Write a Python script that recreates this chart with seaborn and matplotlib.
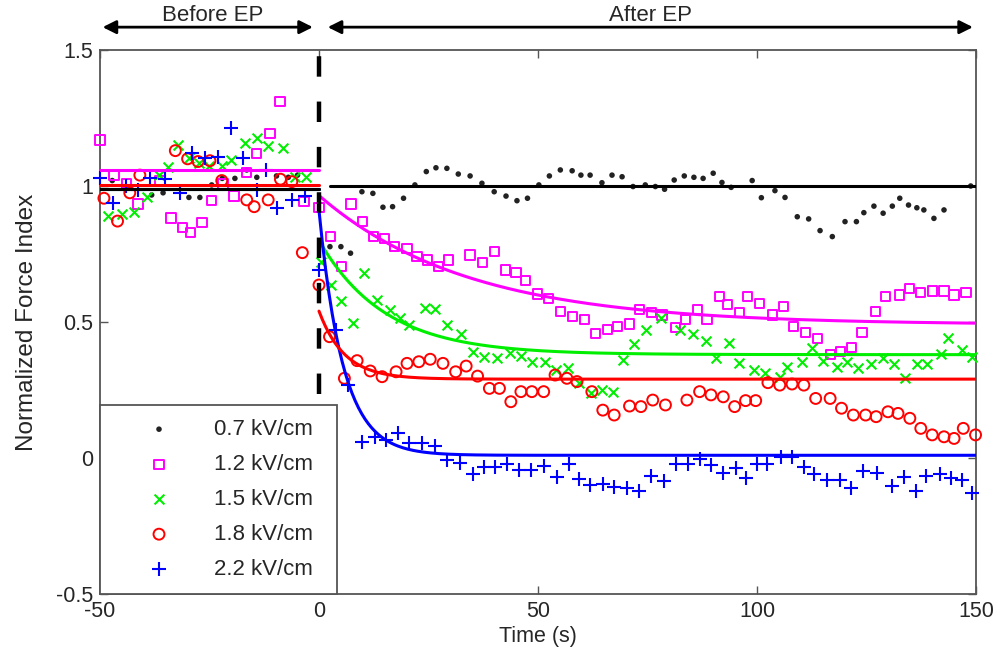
import numpy as np
import pandas as pd
import matplotlib
matplotlib.use("Agg")
import matplotlib.pyplot as plt
import seaborn as sns

# ---------------------------------------------------------------- data
field_labels = ["0.7 kV/cm", "1.2 kV/cm", "1.5 kV/cm", "1.8 kV/cm", "2.2 kV/cm"]

t_07 = [-47.2, -44.2, -38.2, -35.6, -29.7, -27.2, -24.5, -22.1, -19.2, -16.5, -14.2, -9.7, -7.0, -4.9,
        2.5, 5.0, 7.2, 9.8, 12.3, 14.6, 16.8, 19.3, 21.9, 24.5, 26.7, 29.2, 31.8, 34.5, 37.2, 40.0,
        42.7, 45.2, 47.6, 50.2, 52.6, 55.1, 57.8, 59.8, 61.9, 64.6, 66.9, 69.2, 71.7, 74.5, 76.8,
        78.9, 81.1, 83.4, 85.6, 87.7, 90.0, 92.0, 94.1, 98.9, 101.0, 104.1, 106.4, 109.2, 111.8,
        114.4, 117.2, 120.1, 122.7, 124.4, 126.7, 128.8, 130.9, 132.6, 134.6, 136.5, 138.1, 140.4,
        142.7, 148.8]
f_07 = [1.02, 0.998, 0.967, 0.975, 0.958, 0.958, 1.004, 1.028, 1.028, 1.059, 1.032, 1.037, 1.032, 1.04,
        0.777, 0.777, 0.753, 0.979, 0.973, 0.922, 0.924, 0.955, 1.004, 1.053, 1.067, 1.065, 1.044,
        1.037, 1.01, 0.979, 0.963, 0.946, 0.955, 1.004, 1.037, 1.059, 1.056, 1.04, 1.04, 1.012, 1.04,
        1.034, 0.998, 1.004, 0.998, 0.988, 1.022, 1.037, 1.032, 1.028, 1.047, 1.013, 0.995, 1.02,
        0.957, 0.983, 0.958, 0.887, 0.879, 0.836, 0.814, 0.869, 0.869, 0.902, 0.926, 0.9, 0.926,
        0.955, 0.93, 0.92, 0.912, 0.881, 0.912, 1.0]

t_12 = [-50.0, -46.8, -44.0, -41.3, -36.3, -33.8, -31.2, -29.3, -26.7, -24.5, -21.9, -19.4, -16.5,
        -14.2, -11.2, -8.9, -3.4, 0.0,
        2.6, 5.1, 7.3, 10.0, 12.5, 15.0, 17.3, 20.1, 22.4, 24.7, 27.2, 29.5, 34.5, 37.4, 40.1, 42.5,
        45.0, 47.1, 49.8, 52.4, 55.2, 57.9, 60.6, 63.1, 65.8, 68.2, 70.9, 73.2, 76.0, 78.3, 81.4,
        83.7, 86.5, 88.6, 91.4, 93.3, 96.0, 97.9, 100.6, 103.5, 106.1, 108.4, 111.1, 113.9, 116.7,
        119.1, 121.6, 124.0, 127.1, 129.4, 132.6, 134.9, 137.4, 140.0, 142.7, 145.0, 147.7]
f_12 = [1.169, 1.04, 1.01, 0.934, 1.02, 0.882, 0.848, 0.828, 0.866, 0.948, 1.007, 0.963, 1.049,
        1.12, 1.194, 1.31, 0.943, 0.92,
        0.815, 0.703, 0.934, 0.869, 0.814, 0.806, 0.777, 0.771, 0.741, 0.728, 0.703, 0.728, 0.746,
        0.718, 0.759, 0.691, 0.681, 0.652, 0.603, 0.587, 0.54, 0.52, 0.51, 0.458, 0.473, 0.483,
        0.493, 0.547, 0.534, 0.526, 0.48, 0.51, 0.547, 0.51, 0.593, 0.563, 0.534, 0.593, 0.569,
        0.526, 0.556, 0.483, 0.461, 0.44, 0.381, 0.391, 0.406, 0.461, 0.54, 0.593, 0.599, 0.624,
        0.608, 0.614, 0.614, 0.599, 0.608]

t_15 = [-48.2, -45.0, -42.2, -39.3, -36.6, -34.4, -32.3, -29.7, -27.4, -25.2, -22.2, -20.0, -16.9,
        -14.2, -11.7, -8.2, -5.5, -3.0, 0.5,
        2.8, 5.1, 7.7, 10.2, 13.3, 16.1, 18.6, 20.6, 24.3, 26.6, 29.3, 32.5, 35.1, 37.7, 40.6, 43.5,
        46.1, 48.6, 51.5, 54.2, 56.8, 59.3, 62.2, 64.6, 67.1, 69.4, 72.0, 74.7, 78.0, 82.4, 85.4,
        88.4, 90.7, 93.6, 95.8, 99.3, 101.9, 105.2, 106.9, 110.2, 112.6, 115.1, 118.2, 120.6, 123.0,
        126.1, 128.8, 131.3, 133.9, 136.6, 138.9, 142.0, 143.6, 146.9, 149.2]
f_15 = [0.89, 0.897, 0.903, 0.958, 1.04, 1.07, 1.15, 1.104, 1.083, 1.072, 1.074, 1.096, 1.157,
        1.175, 1.147, 1.139, 1.032, 1.032, 0.72,
        0.636, 0.577, 0.498, 0.679, 0.581, 0.544, 0.514, 0.489, 0.55, 0.547, 0.489, 0.455, 0.389,
        0.373, 0.366, 0.387, 0.375, 0.354, 0.354, 0.324, 0.33, 0.275, 0.238, 0.25, 0.244, 0.36,
        0.419, 0.471, 0.515, 0.471, 0.456, 0.431, 0.366, 0.424, 0.35, 0.324, 0.314, 0.297, 0.336,
        0.354, 0.403, 0.358, 0.336, 0.354, 0.33, 0.346, 0.366, 0.346, 0.293, 0.346, 0.346, 0.382,
        0.44, 0.397, 0.372]

t_18 = [-49.1, -46.0, -43.2, -40.9, -32.8, -30.0, -27.6, -24.9, -22.2, -16.5, -14.8, -11.6, -8.8,
        -6.2, -3.8, 0.0,
        2.4, 5.8, 8.7, 11.7, 14.4, 17.6, 20.1, 22.8, 25.4, 28.3, 31.2, 33.6, 36.2, 38.9, 41.2, 43.8,
        46.1, 48.6, 51.3, 53.9, 56.6, 58.9, 62.3, 64.8, 67.4, 70.9, 73.5, 76.2, 79.1, 84.0, 86.9,
        89.5, 92.3, 94.9, 97.4, 99.7, 102.5, 105.2, 108.0, 110.7, 113.4, 116.7, 119.3, 122.0, 124.8,
        127.2, 129.9, 132.2, 134.9, 137.4, 140.0, 142.7, 145.0, 147.1, 149.9]
f_18 = [0.955, 0.871, 0.975, 1.04, 1.13, 1.10, 1.09, 1.093, 1.02, 0.949, 0.924, 0.949, 1.025,
        1.016, 0.755, 0.636,
        0.446, 0.293, 0.358, 0.32, 0.299, 0.317, 0.348, 0.354, 0.363, 0.348, 0.317, 0.338, 0.301,
        0.256, 0.256, 0.207, 0.244, 0.244, 0.244, 0.305, 0.293, 0.281, 0.244, 0.176, 0.158, 0.191,
        0.189, 0.213, 0.195, 0.213, 0.244, 0.232, 0.225, 0.189, 0.211, 0.211, 0.277, 0.268, 0.272,
        0.268, 0.219, 0.219, 0.183, 0.158, 0.158, 0.152, 0.17, 0.164, 0.146, 0.109, 0.085, 0.078,
        0.072, 0.109, 0.085]

t_22 = [-50.0, -47.0, -44.0, -41.3, -38.6, -35.2, -31.8, -29.1, -26.1, -23.0, -20.0, -17.3, -14.2,
        -12.0, -9.7, -6.2, -3.2, 0.0,
        3.9, 6.6, 9.8, 12.7, 15.3, 18.1, 20.6, 23.5, 26.6, 29.3, 32.3, 35.1, 37.6, 40.2, 42.9, 45.6,
        48.4, 51.3, 54.3, 57.0, 59.3, 61.9, 64.8, 67.4, 70.3, 73.0, 75.8, 78.7, 81.4, 84.2, 87.1,
        89.5, 92.3, 95.1, 97.6, 100.0, 102.2, 105.4, 108.0, 110.7, 113.1, 116.0, 118.9, 121.5,
        124.3, 127.3, 130.9, 133.6, 136.2, 138.7, 141.8, 144.2, 146.9, 149.2]
f_22 = [1.028, 0.936, 1.0, 0.985, 1.028, 1.025, 0.973, 1.12, 1.102, 1.108, 1.212, 1.102, 0.985,
        1.059, 0.918, 0.949, 0.963, 0.691,
        0.47, 0.268, 0.06, 0.078, 0.066, 0.091, 0.056, 0.056, 0.044, -0.007, -0.017, -0.059, -0.032,
        -0.032, -0.022, -0.044, -0.044, -0.029, -0.069, -0.022, -0.078, -0.099, -0.096, -0.105,
        -0.111, -0.12, -0.065, -0.083, -0.022, -0.022, -0.005, -0.026, -0.054, -0.038, -0.075,
        -0.022, -0.022, 0.005, 0.005, -0.032, -0.059, -0.081, -0.081, -0.111, -0.047, -0.054,
        -0.102, -0.069, -0.12, -0.066, -0.059, -0.075, -0.081, -0.127]

# mean level before EP and exponential fit after EP: plateau + span * exp(-t / tau)
baseline_level = [0.99, 1.06, 0.99, 1.005, 0.99]
fit_plateau = [1.0, 0.49, 0.38, 0.29, 0.01]
fit_span = [0.0, 0.475, 0.42, 0.25, 0.90]
fit_tau = [1.0, 34.0, 15.0, 5.8, 5.5]
fit_start = [2.5, 0.0, 0.0, 0.0, 0.0]

times = [t_07, t_12, t_15, t_18, t_22]
forces = [f_07, f_12, f_15, f_18, f_22]

# ---------------------------------------------------------------- style
sns.set_theme(style="ticks")
plt.rcParams["font.family"] = ["Liberation Sans", "DejaVu Sans"]
plt.rcParams["axes.unicode_minus"] = False
FS = 15.5
TXT = "#262626"

colors = ["#222222", "#ff00ff", "#00ee00", "#ff0000", "#0000ff"]
markers = ["o", "s", "x", "o", "+"]
sizes = [16, 44, 50, 62, 105]
hollow = [False, True, False, True, False]

fig = plt.figure(figsize=(10.01, 6.64), dpi=100)
ax = fig.add_axes([0.0999, 0.1054, 0.8751, 0.8193])

handles = []
for lab, t, f, c, m, s, h in zip(field_labels, times, forces, colors, markers, sizes, hollow):
    df = pd.DataFrame({"t": t, "force": f})
    kw = dict(marker=m, s=s, color=c, clip_on=False, zorder=3)
    if h:
        kw.update(facecolor="none", edgecolor=c, linewidth=1.4)
    elif m == "o":
        kw.update(edgecolor="none", linewidth=0)
    else:
        kw.update(linewidth=1.5)
    sns.scatterplot(data=df, x="t", y="force", ax=ax, legend=False, **kw)
    handles.append(ax.collections[-1])

# before-EP levels and after-EP exponential fits
order = [2, 4, 1, 0, 3]
for i in order:
    c = colors[i] if i != 0 else "black"
    pre = pd.DataFrame({"t": [-50, 0], "force": [baseline_level[i]] * 2})
    sns.lineplot(data=pre, x="t", y="force", ax=ax, color=c, lw=2.2, legend=False,
                 sort=False, zorder=4)
    tt = np.linspace(fit_start[i], 150, 400)
    post = pd.DataFrame({"t": tt,
                         "force": fit_plateau[i] + fit_span[i] * np.exp(-tt / fit_tau[i])})
    sns.lineplot(data=post, x="t", y="force", ax=ax, color=c, lw=2.2, legend=False,
                 sort=False, zorder=4)

# electroporation instant
ax.axvline(0, color="black", lw=3.2, ls=(6.0, (4.6, 5.6)), zorder=6)

ax.set_xlim(-50, 150)
ax.set_ylim(-0.5, 1.5)
ax.set_xticks([-50, 0, 50, 100, 150])
ax.set_xticklabels(["-50", "0", "50", "100", "150"])
ax.set_yticks([-0.5, 0, 0.5, 1, 1.5])
ax.set_yticklabels(["-0.5", "0", "0.5", "1", "1.5"])
ax.tick_params(direction="in", length=6, width=1, top=True, right=True,
               labelsize=FS, labelcolor=TXT, color="#555555", pad=5)
for sp in ax.spines.values():
    sp.set_color("#555555")
    sp.set_linewidth(1.3)
ax.set_xlabel("Time (s)", fontsize=FS, color=TXT, labelpad=3)
ax.set_ylabel("Normalized Force Index", fontsize=17.5, color=TXT, labelpad=13)

# phase annotations above the axes
trans = ax.get_xaxis_transform()
arrow = dict(arrowstyle="<|-|>", color="black", lw=2, mutation_scale=20, shrinkA=0, shrinkB=0)
ax.annotate("", xy=(-49.4, 1.042), xytext=(-1.4, 1.042), xycoords=trans, textcoords=trans,
            arrowprops=arrow, annotation_clip=False)
ax.annotate("", xy=(2.0, 1.042), xytext=(149.3, 1.042), xycoords=trans, textcoords=trans,
            arrowprops=arrow, annotation_clip=False)
ax.text(-24.2, 1.064, "Before EP", transform=trans, ha="center", va="center",
        fontsize=16, color=TXT)
ax.text(75.7, 1.064, "After EP", transform=trans, ha="center", va="center",
        fontsize=16, color=TXT)

leg = ax.legend(handles=handles, labels=field_labels, loc="lower left",
                bbox_to_anchor=(0, 0, 237 / 876, 194 / 544), mode="expand",
                borderaxespad=0, frameon=True, fancybox=False, edgecolor="#555555",
                framealpha=1, fontsize=16, handlelength=4.05, handletextpad=0.45,
                labelspacing=0.63, borderpad=0.63, scatterpoints=1)
leg.get_frame().set_linewidth(1.3)
leg.set_zorder(10)
for txt in leg.get_texts():
    txt.set_color(TXT)

fig.savefig("out.png", dpi=100)
